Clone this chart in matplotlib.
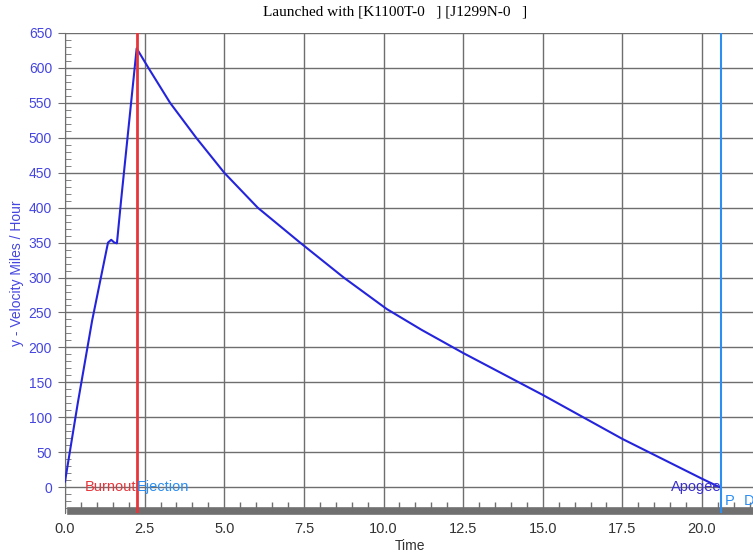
import matplotlib
matplotlib.use("Agg")
import matplotlib.pyplot as plt
from matplotlib.ticker import MultipleLocator

plt.rcParams["font.family"] = ["Liberation Sans", "DejaVu Sans"]

# datos (tiempo en s, velocidad en mph)
tiempo = [0, 0.4, 0.85, 1.35, 1.45, 1.55, 1.63, 1.76, 2.25, 2.62, 3.3, 4.12,
          5.0, 6.05, 7.38, 8.75, 10.1, 11.2, 12.5, 15.0, 17.5, 20.0, 20.55]
velocidad = [8, 120, 238, 350, 354, 350, 349, 410, 628, 600, 550, 500,
             450, 400, 350, 300, 255, 225, 192, 132, 69, 12, 0]

t_burnout = 2.25
t_apogeo = 20.6
titulo = "Launched with [K1100T-0   ] [J1299N-0   ]"

azul = "#2424dc"
rojo = "#e8353b"
celeste = "#2b8ef0"
gris = "#6e6e6e"

fig = plt.figure(figsize=(7.53, 5.54), dpi=100)
ax = fig.add_axes([65 / 753, 1 - 513 / 554, 1 - 65 / 753, (513 - 33) / 554])

ax.plot(tiempo, velocidad, color=azul, lw=1.5, zorder=3)
ax.axvline(t_burnout, color=rojo, lw=2, zorder=4)
ax.axvline(t_apogeo, color=celeste, lw=1.5, zorder=4)

ax.set_xlim(0, 21.6)
ax.set_ylim(-37, 650)

ax.xaxis.set_major_locator(MultipleLocator(2.5))
ax.xaxis.set_minor_locator(MultipleLocator(0.5))
ax.yaxis.set_major_locator(MultipleLocator(50))
ax.yaxis.set_minor_locator(MultipleLocator(10))
ax.grid(True, which="major", color=gris, lw=1, zorder=1)

for lado in ["top", "right"]:
    ax.spines[lado].set_visible(False)
ax.spines["left"].set_color(gris)
ax.spines["bottom"].set_position(("data", -34))
ax.spines["bottom"].set_bounds(0.2, 21.6)
ax.spines["bottom"].set_linewidth(5.5)
ax.spines["bottom"].set_color("#707070")

ax.tick_params(axis="x", which="major", length=0, pad=8, labelsize=10.5, labelcolor="#333333")
ax.tick_params(axis="x", which="minor", direction="in", length=6.5, color=gris, width=1)
ax.tick_params(axis="y", which="major", direction="out", length=5, color=gris,
               labelsize=10, labelcolor="#4545e0", pad=4.3)
ax.tick_params(axis="y", which="minor", direction="in", length=4.5, color=gris)
ax.set_xticks([0, 2.5, 5, 7.5, 10, 12.5, 15, 17.5, 20])
ax.set_xticklabels(["0.0", "2.5", "5.0", "7.5", "10.0", "12.5", "15.0", "17.5", "20.0"])

ax.set_xlabel("Time", fontsize=10, color="#333333")
ax.xaxis.set_label_coords((410 - 65) / 688, (513 - 539) / 480)
ax.set_ylabel("y - Velocity Miles / Hour", fontsize=10, color="#4545e0")
ax.yaxis.set_label_coords((24 - 65) / 688, 0.5)

ax.text(t_burnout, 0, "Burnout", color=rojo, ha="right", va="center", fontsize=10.5, zorder=5)
ax.text(t_burnout, 0, "Ejection", color=celeste, ha="left", va="center", fontsize=10.5, zorder=5)
ax.text(t_apogeo, 0, "Apogee", color="#3b30cc", ha="right", va="center", fontsize=10.5, zorder=5)
ax.text(t_apogeo + 0.1, -20, "P", color=celeste, ha="left", va="center", fontsize=10.5, zorder=5)
ax.text(t_apogeo + 0.7, -20, "D", color=celeste, ha="left", va="center", fontsize=10.5, zorder=5)

fig.text(395 / 753, 1 - 12 / 554, titulo, ha="center", va="center",
         fontsize=11, family="Liberation Serif")

fig.savefig("out.png", dpi=100)
